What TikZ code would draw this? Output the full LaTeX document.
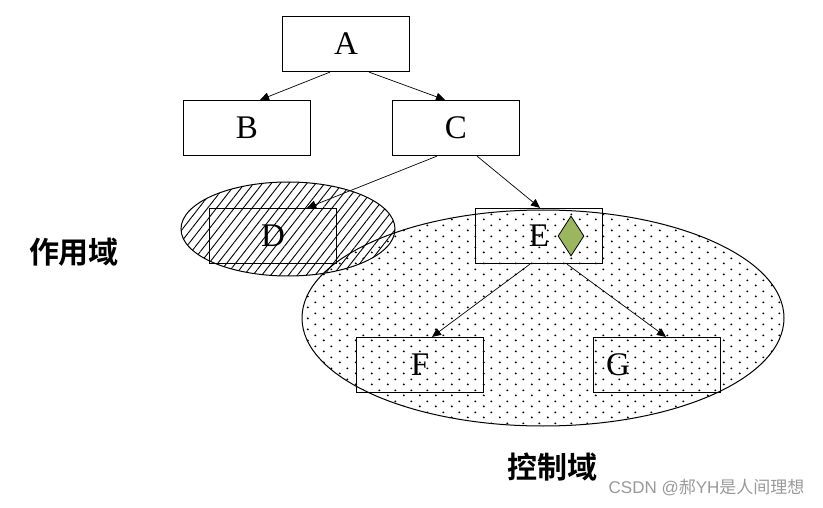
\documentclass[tikz,border=0pt]{standalone}
\usepackage{fontspec}
\setmainfont{Liberation Serif}
\newfontfamily\cjk{Noto Sans CJK SC}
\newfontfamily\cjkb{Noto Sans CJK SC Bold}
\setsansfont{Liberation Sans}
\usetikzlibrary{patterns,patterns.meta,arrows.meta,shapes.geometric}
\tikzdeclarepattern{name=mydots, type=uncolored,
  bounding box={(0pt,0pt) and (16pt,11pt)}, tile size={(16pt,11pt)},
  code={\fill (4pt,2.75pt) circle (1.1pt); \fill (12pt,8.25pt) circle (1.1pt);}}
\definecolor{dgreen}{HTML}{9BB65F}
\tikzset{
  box/.style={draw, line width=1.2pt, minimum width=127pt, minimum height=55pt, inner sep=0pt, font=\fontsize{33}{33}\selectfont},
  conn/.style={-{Triangle[length=9pt,width=8pt]}, line width=0.7pt},
  zone/.style={font=\cjkb\fontsize{30}{30}\selectfont}
}
\begin{document}
\begin{tikzpicture}[x=1pt,y=-1pt]
\useasboundingbox (0,0) rectangle (823,508);
% control domain ellipse
\draw[line width=1pt, pattern=mydots] (543,318) ellipse [x radius=241, y radius=108];
% scope ellipse
\draw[line width=1pt, pattern={Lines[angle=52,distance=7pt,line width=0.9pt]}] (288,229) ellipse [x radius=107, y radius=47];
\node[box] (A) at (346,44) {A};
\node[box] (B) at (247,128) {B};
\node[box] (C) at (456,128) {C};
\node[box] (D) at (273,236) {D};
\node[box] (E) at (539,236) {E};
\node[box] (F) at (420,365) {F};
\node[box] (G) at (657,365) {\hspace*{-78pt}G};
\node[diamond, draw, fill=dgreen, line width=0.8pt, minimum width=26pt, minimum height=40pt, inner sep=0pt, aspect=0.65] (dia) at (571,236) {};
\draw[conn] ([xshift=-16pt]A.south) -- ([xshift=13pt]B.north);
\draw[conn] ([xshift=23pt]A.south) -- ([xshift=-11pt]C.north);
\draw[conn] ([xshift=-19pt]C.south) -- ([xshift=34pt]D.north);
\draw[conn] ([xshift=21pt]C.south) -- ([xshift=1pt]E.north);
\draw[conn] ([xshift=-9pt]E.south) -- ([xshift=12pt]F.north);
\draw[conn] ([xshift=28pt]E.south) -- ([xshift=9pt]G.north);
\node[zone] (zy) at (74,252) {作用域};
\node[zone] (kz) at (552,467) {控制域};
\node[font=\sffamily\fontsize{17}{17}\selectfont, text=black!40, anchor=east] (wm) at (808,488) {CSDN @{\cjk 郝}YH{\cjk 是人间理想}};
\end{tikzpicture}
\end{document}
